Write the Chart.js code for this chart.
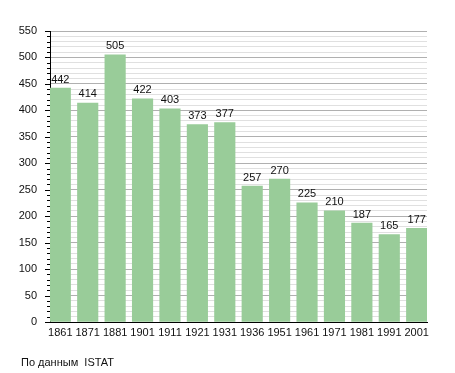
<!DOCTYPE html>
<html>
<head>
<meta charset="utf-8">
<script src="https://cdn.jsdelivr.net/npm/chart.js@4/dist/chart.umd.min.js"></script>
<style>
  html, body { margin: 0; padding: 0; background: #fff; }
  #wrap { width: 455px; height: 373px; }
</style>
</head>
<body>
<div id="wrap"><canvas id="popChart" width="455" height="373"></canvas></div>
<script>
const years = ['1861','1871','1881','1901','1911','1921','1931','1936','1951','1961','1971','1981','1991','2001'];
const population = [442, 414, 505, 422, 403, 373, 377, 257, 270, 225, 210, 187, 165, 177];
const source = 'По данным  ISTAT';

const FONT = "'Liberation Sans', Arial, sans-serif";
const BAR_W = 20.5;

// numbers above the bars
const barLabels = {
    id: 'barLabels',
    afterDatasetsDraw(chart) {
        const ctx = chart.ctx;
        const meta = chart.getDatasetMeta(0);
        ctx.save();
        ctx.font = '11px ' + FONT;
        ctx.fillStyle = '#111';
        ctx.textAlign = 'center';
        ctx.textBaseline = 'bottom';
        meta.data.forEach((bar, i) => {
            ctx.fillText(population[i], bar.x, bar.y - 3);
        });
        ctx.restore();
    }
};

// small ticks on the y axis, longer on every 50
const yTicks = {
    id: 'yTicks',
    afterDraw(chart) {
        const ctx = chart.ctx;
        const y = chart.scales.y;
        const left = chart.chartArea.left;
        ctx.save();
        ctx.strokeStyle = '#000';
        ctx.lineWidth = 1;
        y.ticks.forEach(t => {
            const py = Math.round(y.getPixelForValue(t.value)) + 0.5;
            const len = t.value % 50 === 0 ? 5 : 3;
            ctx.beginPath();
            ctx.moveTo(left - len, py);
            ctx.lineTo(left, py);
            ctx.stroke();
        });
        ctx.font = '11px ' + FONT;
        ctx.fillStyle = '#111';
        ctx.textAlign = 'left';
        ctx.textBaseline = 'alphabetic';
        ctx.fillText(source, 21, 366);
        ctx.restore();
    }
};

new Chart(document.getElementById('popChart'), {
    type: 'bar',
    data: {
        datasets: [{
            data: population.map((v, i) => ({ x: i, y: v })),
            backgroundColor: '#99cc99',
            borderWidth: 0,
            barThickness: BAR_W
        }]
    },
    options: {
        responsive: false,
        animation: false,
        layout: { padding: { top: 31, right: 28, left: 0, bottom: 0 } },
        plugins: {
            legend: { display: false },
            tooltip: { enabled: false }
        },
        scales: {
            x: {
                type: 'linear',
                min: -BAR_W / 2 / 27.27,
                max: 13 + BAR_W / 2 / 27.27,
                offset: false,
                grid: { display: false, drawTicks: false },
                border: { display: true, color: '#000', width: 1 },
                ticks: {
                    stepSize: 1,
                    includeBounds: false,
                    autoSkip: false,
                    maxRotation: 0,
                    padding: 4,
                    color: '#111',
                    font: { family: FONT, size: 11 },
                    callback: v => years[v] !== undefined ? years[v] : ''
                },
                afterFit: s => { s.height = 51; }
            },
            y: {
                min: 0,
                max: 550,
                grid: {
                    drawTicks: false,
                    color: c => c.tick.value % 50 === 0 ? '#b0b0b0' : '#e0e0e0'
                },
                border: { display: true, color: '#000', width: 1 },
                ticks: {
                    stepSize: 10,
                    autoSkip: false,
                    padding: 13,
                    color: '#111',
                    font: { family: FONT, size: 11 },
                    callback: v => v % 50 === 0 ? v : ''
                },
                afterFit: s => { s.width = 50; }
            }
        }
    },
    plugins: [barLabels, yTicks]
});
</script>
</body>
</html>
